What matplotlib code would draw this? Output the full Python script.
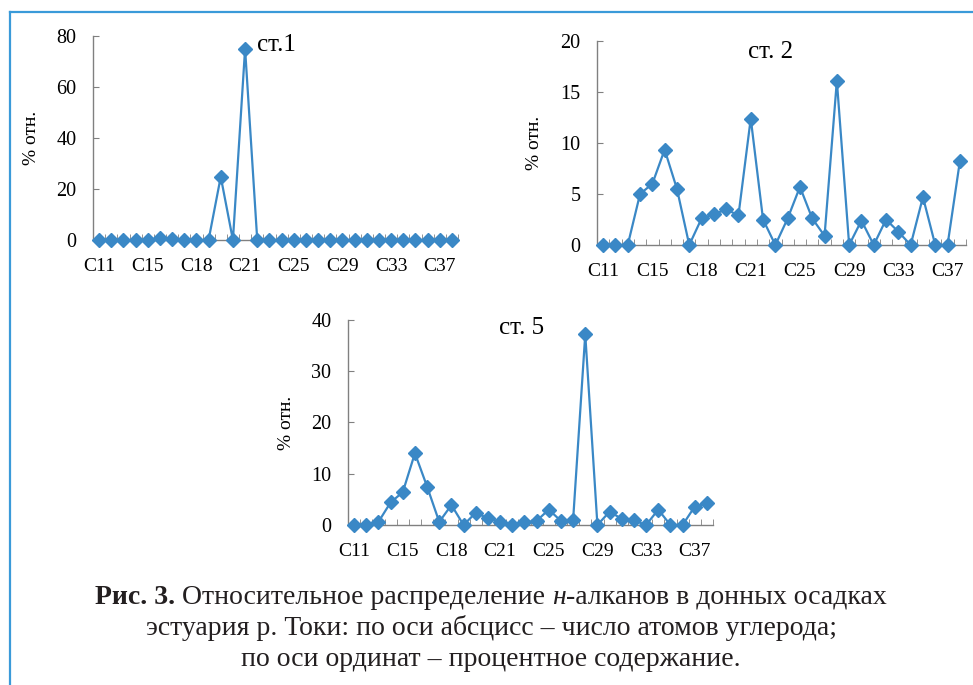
import numpy as np
import matplotlib
matplotlib.use('Agg')
import matplotlib.pyplot as plt

# categories: n-alkanes C11..C38 plus pristane / phytane slots (labels every 4th)
categories = ['C11', 'C12', 'C13', 'C14', 'C15', 'C16', 'C17', 'Pr', 'C18', 'Ph',
              'C19', 'C20', 'C21', 'C22', 'C23', 'C24', 'C25', 'C26', 'C27', 'C28',
              'C29', 'C30', 'C31', 'C32', 'C33', 'C34', 'C35', 'C36', 'C37', 'C38']
shown_labels = ['C11', 'C15', 'C18', 'C21', 'C25', 'C29', 'C33', 'C37']

st1 = [0, 0, 0, 0, 0, 0.7, 0.5, 0, 0, 0, 24.8, 0, 75.0, 0, 0,
       0, 0, 0, 0, 0, 0, 0, 0, 0, 0, 0, 0, 0, 0, 0]
st2 = [0, 0, 0, 5.0, 6.0, 9.35, 5.5, 0, 2.6, 3.0, 3.5, 2.9, 12.4, 2.5, 0,
       2.6, 5.7, 2.6, 0.9, 16.1, 0, 2.4, 0, 2.5, 1.3, 0, 4.7, 0, 0, 8.2]
st5 = [0, 0, 0.6, 4.4, 6.4, 14.0, 7.5, 0.6, 3.9, 0, 2.4, 1.3, 0.65, 0, 0.5,
       0.8, 3.0, 0.8, 0.9, 37.2, 0, 2.6, 1.2, 0.9, 0, 3.0, 0, 0, 3.6, 4.2]

line_color = '#3a88c6'
axis_color = '#808080'
serif = ['Liberation Serif', 'DejaVu Serif']
plt.rcParams['font.family'] = serif

fig = plt.figure(figsize=(9.73, 6.85), dpi=100)

# light blue frame (top and left only)
frame_col = '#3a9ad9'
fig.add_artist(plt.Line2D([9.5 / 973, 1.0], [1 - 12 / 685, 1 - 12 / 685],
                          transform=fig.transFigure, color=frame_col, lw=1.6))
fig.add_artist(plt.Line2D([9.5 / 973, 9.5 / 973], [0, 1 - 12 / 685],
                          transform=fig.transFigure, color=frame_col, lw=1.6))

panels = [
    (st1, [93 / 973, 1 - 240 / 685, 365 / 973, 204 / 685], [0, 20, 40, 60, 80], 'ст.1', (0.449, 0.956)),
    (st2, [597 / 973, 1 - 245 / 685, 369 / 973, 204 / 685], [0, 5, 10, 15, 20], 'ст. 2', (0.409, 0.946)),
    (st5, [348 / 973, 1 - 525 / 685, 365 / 973, 205 / 685], [0, 10, 20, 30, 40], 'ст. 5', (0.414, 0.961)),
]

x = np.arange(len(categories))
label_idx = [categories.index(c) for c in shown_labels]

for vals, rect, yt, title, tpos in panels:
    ax = fig.add_axes(rect)
    ax.plot(x, vals, color=line_color, lw=1.6, marker='D', ms=7,
            mec=line_color, mfc=line_color, clip_on=False, zorder=3)
    ax.set_xlim(-0.5, len(categories) - 0.5)
    ax.set_ylim(yt[0], yt[-1])
    ax.set_yticks(yt)
    ax.set_xticks(label_idx)
    ax.set_xticklabels(shown_labels)
    ax.set_xticks(np.arange(-0.5, len(categories), 1), minor=True)
    ax.tick_params(axis='x', which='major', length=0, pad=13, labelsize=14)
    ax.tick_params(axis='x', which='minor', length=4, direction='in', color=axis_color)
    ax.tick_params(axis='y', length=4, direction='in', color=axis_color, pad=12, labelsize=14.5)
    for s in ['top', 'right']:
        ax.spines[s].set_visible(False)
    for s in ['left', 'bottom']:
        ax.spines[s].set_color(axis_color)
        ax.spines[s].set_linewidth(1.0)
    ax.set_ylabel('% отн.', fontsize=14)
    ax.yaxis.set_label_coords(-0.145, 0.5)
    ax.text(tpos[0], tpos[1], title, transform=ax.transAxes, fontsize=18,
            ha='left', va='center')

# caption, assembled from pieces with mixed styles
renderer = fig.canvas.get_renderer()
cap_size = 20
lines = [
    [('Рис. 3.', 'bold', 'normal'), (' Относительное распределение ', 'normal', 'normal'),
     ('н', 'normal', 'italic'), ('-алканов в донных осадках', 'normal', 'normal')],
    [('эстуария р. Токи: по оси абсцисс – число атомов углерода;', 'normal', 'normal')],
    [('по оси ординат – процентное содержание.', 'normal', 'normal')],
]
line_y = [597, 628, 660]
cx = 491 / 973
for pieces, ypix in zip(lines, line_y):
    texts = []
    for s, w, st in pieces:
        t = fig.text(0, 1 - ypix / 685, s, fontsize=cap_size, fontweight=w,
                     fontstyle=st, ha='left', va='center', color='#231f20')
        texts.append(t)
    widths = [t.get_window_extent(renderer).width for t in texts]
    total = sum(widths)
    start = cx * 973 - total / 2
    for t, wd in zip(texts, widths):
        t.set_x(start / 973)
        start += wd

fig.savefig('out.png', dpi=100)
